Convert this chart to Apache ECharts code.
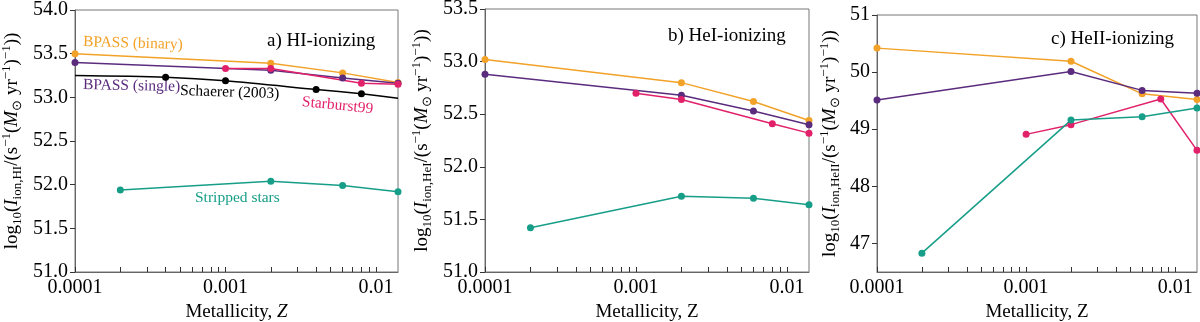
<!DOCTYPE html>
<html>
<head>
<meta charset="utf-8">
<script src="https://cdn.jsdelivr.net/npm/echarts@6/dist/echarts.min.js"></script>
<style>
  html, body { margin: 0; padding: 0; background: #fff; }
  #chart { width: 1200px; height: 322px; }
</style>
</head>
<body>
<div id="chart"></div>
<script>
// metallicity grids of each model
const zBpass = [0.0001, 0.002, 0.006, 0.014];
const zSb99 = [0.001, 0.002, 0.008, 0.014];
const zStripped = [0.0002, 0.002, 0.006, 0.014];
const zSchaerer = [0.0001, 0.0004, 0.001, 0.004, 0.008, 0.014];
const schaererMarked = [false, true, true, true, true, false];

// a) HI-ionizing
const binaryHI = [53.50, 53.39, 53.28, 53.17];
const singleHI = [53.40, 53.31, 53.22, 53.16];
const sb99HI = [53.33, 53.33, 53.16, 53.15];
const strippedHI = [51.94, 52.04, 51.99, 51.92];
const schaererHI = [53.25, 53.23, 53.19, 53.09, 53.04, 52.99];

// b) HeI-ionizing
const binaryHeI = [53.02, 52.80, 52.62, 52.44];
const singleHeI = [52.88, 52.68, 52.53, 52.40];
const sb99HeI = [52.70, 52.64, 52.41, 52.32];
const strippedHeI = [51.42, 51.72, 51.70, 51.64];

// c) HeII-ionizing
const binaryHeII = [50.42, 50.19, 49.62, 49.52];
const singleHeII = [49.51, 50.01, 49.68, 49.63];
const sb99HeII = [48.91, 49.08, 49.53, 48.63];
const strippedHeII = [46.83, 49.16, 49.22, 49.37];

// axis ticks
const xMajor = [0.0001, 0.001, 0.01];
const xMinor = [0.0001, 0.0002, 0.0003, 0.0004, 0.0005, 0.0006, 0.0007, 0.0008, 0.0009,
                0.001, 0.002, 0.003, 0.004, 0.005, 0.006, 0.007, 0.008, 0.009, 0.01];
const yTicksHeII = [47, 48, 49, 50, 51];

const FONT = 'Liberation Serif';
const C = {
    binary: '#f2a228',
    single: '#5b2c7e',
    sb99: '#e2216b',
    stripped: '#179e88',
    schaerer: '#000000'
};

const chart = echarts.init(document.getElementById('chart'));

const grids = [
    { left: 75, right: 802, top: 10, bottom: 50 },
    { left: 485, right: 391, top: 9, bottom: 50 },
    { left: 877, right: 3, top: 15, bottom: 50 }
];

const richName = {
    t: { fontFamily: FONT, fontSize: 19, color: '#000', lineHeight: 24 },
    i: { fontFamily: FONT, fontSize: 19, color: '#000', fontStyle: 'italic', lineHeight: 24 },
    s: { fontFamily: FONT, fontSize: 13, color: '#000', verticalAlign: 'bottom', lineHeight: 13 },
    p: { fontFamily: FONT, fontSize: 13, color: '#000', verticalAlign: 'top', lineHeight: 13 }
};

function yName(ion) {
    return '{t|log}{s|10}{t|(}{i|I}{s|ion,' + ion + '}{t|/(s}{p|−1}{t|(}{i|M}{s|⊙}{t| yr}{p|−1}{t|)}{p|−1}{t|))}';
}

function xAxis(idx, italicZ) {
    return {
        type: 'log', gridIndex: idx, logBase: 10,
        min: 0.0001, max: 0.014,
        name: italicZ ? '{t|Metallicity, }{i|Z}' : '{t|Metallicity, Z}',
        nameLocation: 'middle', nameGap: 26,
        nameTextStyle: { rich: richName },
        axisLine: { lineStyle: { color: '#666', width: 1 } },
        axisTick: { inside: true, length: 5, customValues: xMinor, lineStyle: { color: '#333' } },
        minorTick: { show: false },
        splitLine: { show: false },
        axisLabel: {
            customValues: xMajor,
            fontFamily: FONT, fontSize: 20, color: '#000', margin: 6,
            formatter: v => String(+v.toPrecision(1))
        }
    };
}

function yAxis(idx, min, max, ion, opts) {
    return Object.assign({
        type: 'value', gridIndex: idx, min: min, max: max, interval: 0.5,
        name: yName(ion), nameLocation: 'middle', nameGap: 51, nameRotate: 90,
        nameTextStyle: { rich: richName },
        axisLine: { show: true, lineStyle: { color: '#666', width: 1 } },
        axisTick: { show: true, length: 5, lineStyle: { color: '#333' } },
        splitLine: { show: false },
        axisLabel: {
            fontFamily: FONT, fontSize: 20, color: '#000', margin: 7,
            formatter: v => v.toFixed(1)
        }
    }, opts || {});
}

function line(idx, xs, ys, color, name) {
    return {
        type: 'line', name: name, xAxisIndex: idx, yAxisIndex: idx,
        data: xs.map((x, k) => [x, ys[k]]),
        symbol: 'circle', symbolSize: 7, showSymbol: true,
        lineStyle: { color: color, width: 1.5 },
        itemStyle: { color: color },
        animation: false, z: 3
    };
}

function schaerer(idx, ys) {
    return {
        type: 'line', name: 'Schaerer (2003)', xAxisIndex: idx, yAxisIndex: idx,
        data: zSchaerer.map((x, k) => ({
            value: [x, ys[k]],
            symbol: schaererMarked[k] ? 'circle' : 'none'
        })),
        symbolSize: 7, smooth: 0.3,
        lineStyle: { color: C.schaerer, width: 1.5 },
        itemStyle: { color: C.schaerer },
        animation: false, z: 2
    };
}

function txt(x, y, text, color, size, rot, italic) {
    return {
        type: 'text', x: x, y: y, rotation: rot || 0,
        style: {
            text: text, fill: color, font: (italic ? 'italic ' : '') + size + 'px "' + FONT + '"',
            textVerticalAlign: 'middle'
        }
    };
}

chart.setOption({
    backgroundColor: '#fff',
    animation: false,
    grid: grids.map(g => Object.assign({
        show: true, borderColor: '#777', borderWidth: 1, backgroundColor: 'transparent',
        outerBoundsMode: 'none', containLabel: false
    }, g)),
    xAxis: [xAxis(0, true), xAxis(1, false), xAxis(2, false)],
    yAxis: [
        yAxis(0, 51, 54, 'HI'),
        yAxis(1, 51, 53.5, 'HeI'),
        yAxis(2, 46.5, 51, 'HeII', {
            interval: 0.5,
            axisTick: { show: true, length: 5, customValues: yTicksHeII, lineStyle: { color: '#333' } },
            axisLabel: {
                customValues: yTicksHeII,
                fontFamily: FONT, fontSize: 20, color: '#000', margin: 7,
                formatter: v => String(Math.round(v))
            },
            nameGap: 35
        })
    ],
    series: [
        line(0, zBpass, binaryHI, C.binary, 'BPASS (binary)'),
        line(0, zBpass, singleHI, C.single, 'BPASS (single)'),
        schaerer(0, schaererHI),
        line(0, zSb99, sb99HI, C.sb99, 'Starburst99'),
        line(0, zStripped, strippedHI, C.stripped, 'Stripped stars'),

        line(1, zBpass, binaryHeI, C.binary, 'BPASS (binary)'),
        line(1, zBpass, singleHeI, C.single, 'BPASS (single)'),
        line(1, zSb99, sb99HeI, C.sb99, 'Starburst99'),
        line(1, zStripped, strippedHeI, C.stripped, 'Stripped stars'),

        line(2, zBpass, binaryHeII, C.binary, 'BPASS (binary)'),
        line(2, zBpass, singleHeII, C.single, 'BPASS (single)'),
        line(2, zSb99, sb99HeII, C.sb99, 'Starburst99'),
        line(2, zStripped, strippedHeII, C.stripped, 'Stripped stars')
    ],
    graphic: [
        txt(267, 41, 'a) HI-ionizing', '#000', 19),
        txt(668, 36, 'b) HeI-ionizing', '#000', 19),
        txt(1051, 39, 'c) HeII-ionizing', '#000', 19),
        txt(83, 42, 'BPASS (binary)', C.binary, 15.5, -0.03),
        txt(83, 85, 'BPASS (single)', C.single, 15.5, -0.02),
        txt(180, 91, 'Schaerer (2003)', '#000', 15.5, -0.03),
        txt(302, 102, 'Starburst99', C.sb99, 15.5, -0.1),
        txt(195, 198, 'Stripped stars', C.stripped, 15.5)
    ]
});
</script>
</body>
</html>
